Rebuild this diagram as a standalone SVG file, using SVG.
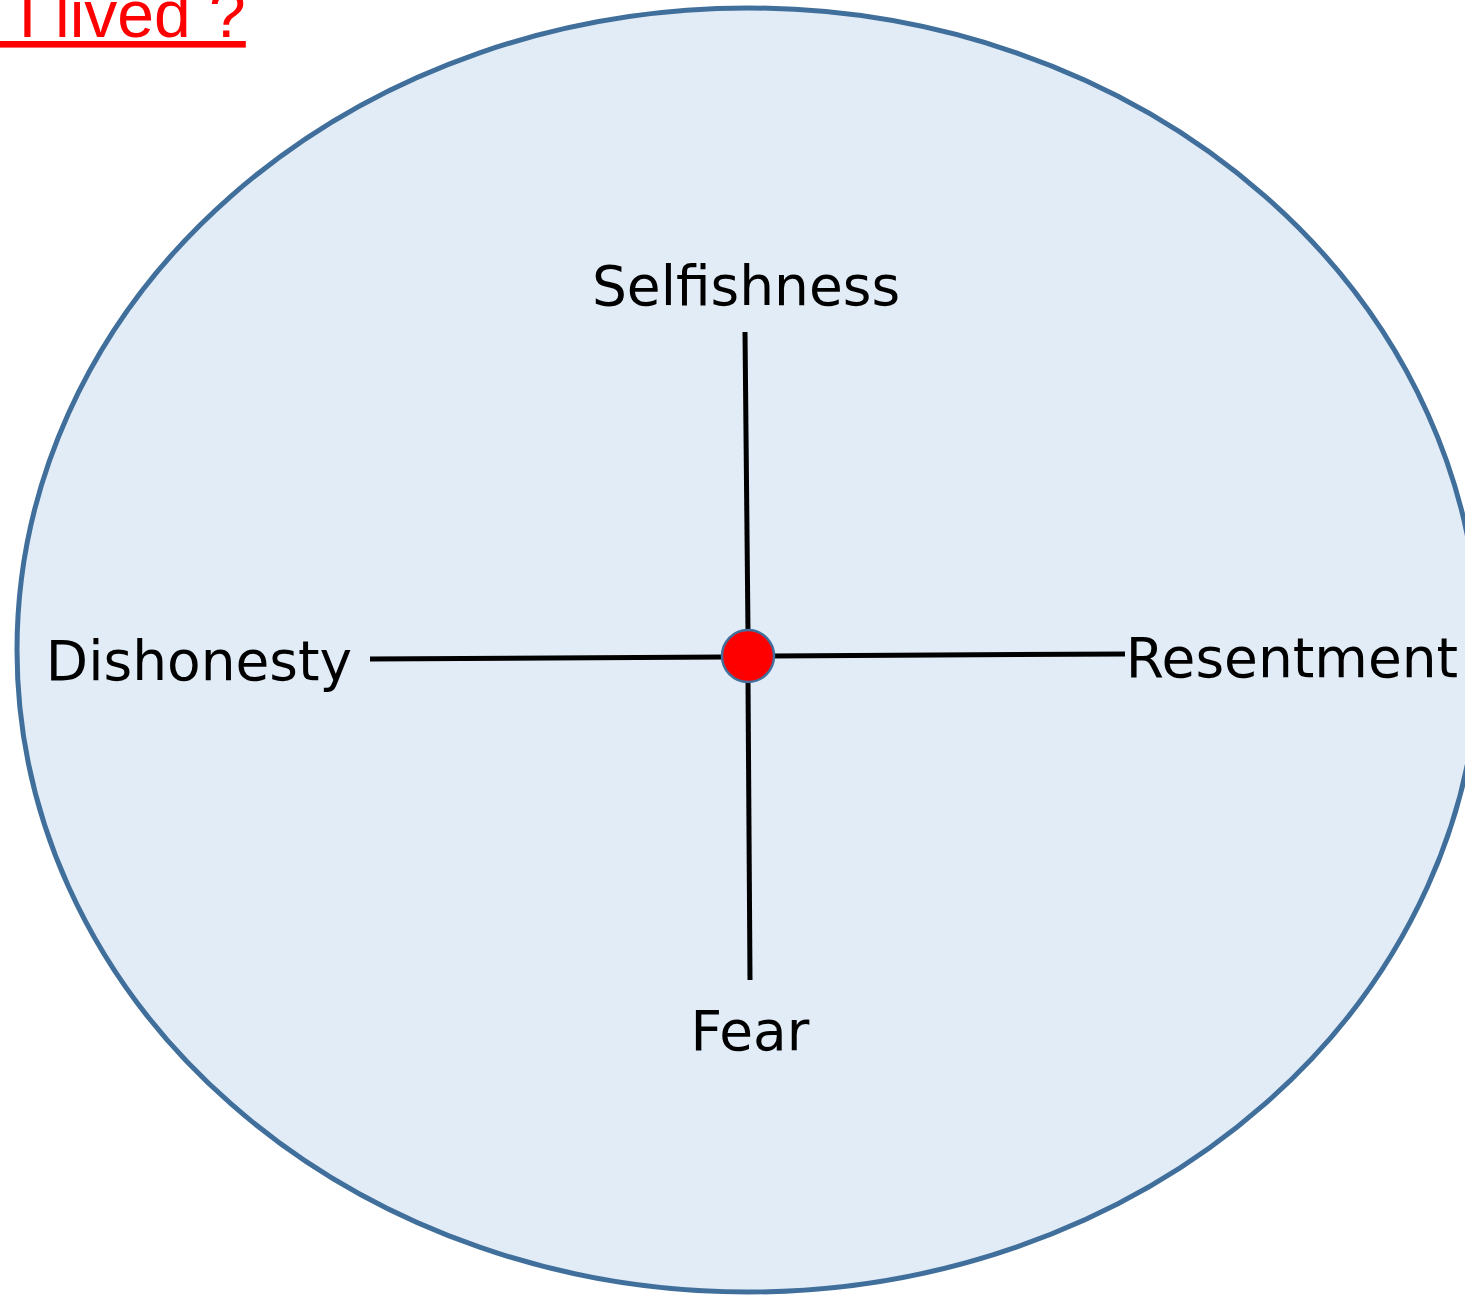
<svg xmlns="http://www.w3.org/2000/svg" width="1465" height="1295" viewBox="0 0 1465 1295">
<style>
.lbl{font-family:"DejaVu Sans",Verdana,sans-serif;font-size:55px;fill:#000}
.ln{stroke:#000;stroke-width:5;fill:none}
</style>
<rect width="1465" height="1295" fill="#fff"/>
<g id="title"><text x="0" y="37" xml:space="preserve" font-family="Liberation Sans,Arial,sans-serif" font-size="66" fill="#ff0000" text-decoration="underline"> I lived ?</text></g>
<g id="circle"><ellipse cx="748" cy="650" rx="731" ry="642" fill="#e1ecf7" stroke="#416f9c" stroke-width="5"/></g>
<g id="connectors">
<line class="ln" x1="745" y1="332" x2="748" y2="632"/>
<line class="ln" x1="748" y1="680" x2="750" y2="980"/>
<line class="ln" x1="370" y1="659" x2="724" y2="657"/>
<line class="ln" x1="772" y1="656" x2="1125" y2="654"/>
</g>
<g id="center"><circle cx="748" cy="656" r="26" fill="#ff0000" stroke="#416f9c" stroke-width="2.5"/></g>
<g id="selfishness"><text class="lbl" x="746" y="305" text-anchor="middle">Selfishness</text></g>
<g id="dishonesty"><text class="lbl" x="199" y="680" text-anchor="middle">Dishonesty</text></g>
<g id="resentment"><text class="lbl" x="1292" y="677" text-anchor="middle">Resentment</text></g>
<g id="fear"><text class="lbl" x="750" y="1050" text-anchor="middle">Fear</text></g>
</svg>
